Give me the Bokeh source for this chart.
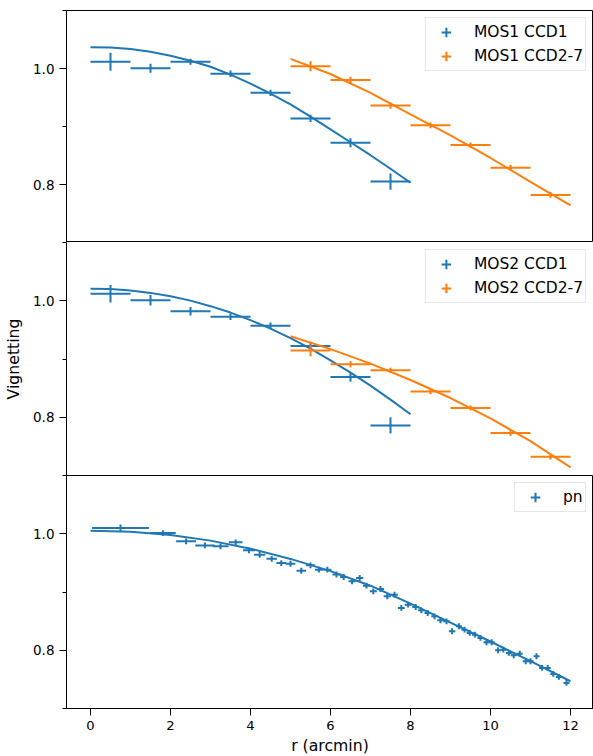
import numpy as np
from bokeh.plotting import figure
from bokeh.models import (Range1d, FixedTicker, ColumnDataSource, Legend, LegendItem,
                          PrintfTickFormatter)
from bokeh.layouts import column
from bokeh.embed import file_html
from bokeh.resources import INLINE

FONT = "DejaVu Sans"
BLUE = "#1f77b4"
ORANGE = "#ff7f0e"

# ---------------- data ----------------
mos_inner_r = [0.5, 1.5, 2.5, 3.5, 4.5, 5.5, 6.5, 7.5]
mos_inner_rerr = [0.5, 0.5, 0.5, 0.5, 0.5, 0.5, 0.5, 0.5]
mos_outer_r = [5.5, 6.5, 7.5, 8.5, 9.5, 10.5, 11.5]
mos_outer_rerr = [0.5, 0.5, 0.5, 0.5, 0.5, 0.5, 0.5]

mos1_ccd1_v = [1.0116, 1.0005, 1.0116, 0.991, 0.958, 0.914, 0.872, 0.805]
mos1_ccd1_verr = [0.0155, 0.0078, 0.005, 0.0057, 0.0055, 0.0063, 0.0078, 0.014]
mos1_ccd27_v = [1.004, 0.980, 0.936, 0.902, 0.868, 0.829, 0.782]
mos1_ccd27_verr = [0.0086, 0.0057, 0.0055, 0.0049, 0.0043, 0.0046, 0.0049]

mos2_ccd1_v = [1.012, 1.0007, 0.982, 0.9725, 0.957, 0.9224, 0.869, 0.786]
mos2_ccd1_verr = [0.015, 0.009, 0.0072, 0.0057, 0.0057, 0.007, 0.0078, 0.0138]
mos2_ccd27_v = [0.9145, 0.891, 0.8805, 0.844, 0.816, 0.773, 0.732]
mos2_ccd27_verr = [0.0098, 0.0055, 0.0046, 0.0046, 0.0043, 0.0049, 0.0046]

pn_r = [0.75, 1.81, 2.39, 2.86, 3.25, 3.63, 3.96, 4.23, 4.53, 4.77, 5.0, 5.27, 5.5,
        5.71, 5.92, 6.15, 6.33, 6.54, 6.73, 6.9, 7.07, 7.25, 7.42, 7.6, 7.77, 7.94,
        8.13, 8.27, 8.43, 8.6, 8.75, 8.9, 9.04, 9.21, 9.35, 9.48, 9.61, 9.75, 9.9,
        10.03, 10.19, 10.32, 10.46, 10.58, 10.73, 10.88, 11.0, 11.15, 11.29, 11.43,
        11.57, 11.71, 11.9]
pn_rerr = [0.71, 0.32, 0.25, 0.24, 0.2, 0.17, 0.15, 0.14, 0.13, 0.12, 0.12, 0.12, 0.11,
           0.1, 0.1, 0.1, 0.09, 0.09, 0.09, 0.09, 0.09, 0.09, 0.09, 0.085, 0.085, 0.085,
           0.085, 0.08, 0.08, 0.08, 0.08, 0.08, 0.08, 0.075, 0.075, 0.075, 0.075, 0.075,
           0.075, 0.075, 0.075, 0.075, 0.075, 0.075, 0.075, 0.075, 0.075, 0.075, 0.075,
           0.075, 0.075, 0.075, 0.075]
pn_v = [1.0098, 1.0012, 0.987, 0.980, 0.9784, 0.9852, 0.9715, 0.964, 0.957, 0.9497,
        0.9485, 0.9365, 0.9458, 0.9383, 0.9383, 0.930, 0.9257, 0.9184, 0.924, 0.9108,
        0.9012, 0.9051, 0.8926, 0.8954, 0.8726, 0.8782, 0.8743, 0.8686, 0.864, 0.8583,
        0.8515, 0.8497, 0.8326, 0.8412, 0.8353, 0.8297, 0.8268, 0.8211, 0.8137, 0.8137,
        0.800, 0.801, 0.7954, 0.7914, 0.7942, 0.7811, 0.7811, 0.7897, 0.7696, 0.7696,
        0.7594, 0.7542, 0.7439]
pn_verr = [0.006, 0.005, 0.005, 0.005, 0.005, 0.005, 0.005, 0.005, 0.005, 0.005, 0.005,
           0.005, 0.005, 0.005, 0.005, 0.005, 0.005, 0.005, 0.005, 0.005, 0.005, 0.005,
           0.005, 0.005, 0.005, 0.005, 0.005, 0.005, 0.005, 0.005, 0.005, 0.005, 0.005,
           0.005, 0.005, 0.005, 0.005, 0.005, 0.005, 0.005, 0.005, 0.005, 0.005, 0.005,
           0.005, 0.005, 0.005, 0.005, 0.005, 0.005, 0.005, 0.005, 0.005]

# fitted model curves
fit_inner_r = [0, 0.5, 1, 1.5, 2, 2.5, 3, 3.5, 4, 4.5, 5, 5.5, 6, 6.5, 7, 7.5, 8]
mos1_ccd1_fit = [1.0367, 1.0361, 1.0335, 1.0287, 1.0220, 1.0135, 1.0030, 0.9895, 0.9740,
                 0.9568, 0.9380, 0.9170, 0.8950, 0.8729, 0.8505, 0.8272, 0.8030]
mos2_ccd1_fit = [1.0207, 1.0202, 1.0177, 1.0135, 1.0077, 1.0002, 0.9907, 0.9797, 0.9667,
                 0.9522, 0.9357, 0.9177, 0.8977, 0.8767, 0.8542, 0.8302, 0.8052]
fit_outer_r = [5, 6, 7, 8, 9, 10, 11, 12]
mos1_ccd27_fit = [1.0167, 0.9905, 0.958, 0.921, 0.8847, 0.8457, 0.8047, 0.764]
mos2_ccd27_fit = [0.939, 0.917, 0.892, 0.864, 0.833, 0.798, 0.759, 0.714]
pn_fit_r = [0, 1, 2, 3, 4, 5, 6, 7, 8, 9, 10, 11, 12]
pn_fit = [1.0051, 1.0035, 0.998, 0.9882, 0.9744, 0.9568, 0.9358, 0.9108, 0.8800, 0.8475,
          0.8150, 0.7815, 0.7468]

x_ticks = [0, 2, 4, 6, 8, 10, 12]
y_ticks = [0.8, 1.0]
y_minor_ticks = [0.7, 0.9, 1.1]

# ---------------- plotting ----------------
xr = Range1d(-0.6, 12.575)


def make_fig(frame_h, top_border, bottom_axis, outline):
    p = figure(frame_width=527, frame_height=frame_h, x_range=xr,
               y_range=Range1d(0.7, 1.1), output_backend="svg", toolbar_location=None,
               x_axis_location="below" if bottom_axis else None,
               min_border_left=66, min_border_right=0, min_border_top=top_border,
               min_border_bottom=0)
    p.grid.visible = False
    p.outline_line_color = "black" if outline else None
    p.outline_line_width = 1
    p.outline_line_alpha = 1
    ya = p.yaxis[0]
    ya.ticker = FixedTicker(ticks=y_ticks, minor_ticks=y_minor_ticks)
    ya.formatter = PrintfTickFormatter(format="%.1f")
    ya.major_tick_out = 7
    ya.major_tick_in = 0
    ya.minor_tick_out = 4
    ya.minor_tick_in = 0
    ya.major_label_text_font = FONT
    ya.major_label_text_font_size = "13.5px"
    ya.major_label_text_color = "black"
    ya.major_label_standoff = 5
    ya.axis_line_color = "black"
    ya.major_tick_line_color = "black"
    ya.minor_tick_line_color = "black"
    ya.axis_label_text_font = FONT
    ya.axis_label_text_font_size = "15.7px"
    ya.axis_label_text_font_style = "normal"
    ya.axis_label_text_color = "black"
    ya.axis_label_standoff = 7
    if bottom_axis:
        xa = p.xaxis[0]
        xa.ticker = FixedTicker(ticks=x_ticks, minor_ticks=[])
        xa.major_tick_out = 7
        xa.major_tick_in = 0
        xa.minor_tick_out = 0
        xa.minor_tick_in = 0
        xa.major_label_text_font = FONT
        xa.major_label_text_font_size = "13.1px"
        xa.major_label_text_color = "black"
        xa.major_label_standoff = 5
        xa.axis_line_color = "black"
        xa.major_tick_line_color = "black"
        xa.axis_label = "r (arcmin)"
        xa.axis_label_text_font = FONT
        xa.axis_label_text_font_size = "15.7px"
        xa.axis_label_text_font_style = "normal"
        xa.axis_label_text_color = "black"
        xa.axis_label_standoff = 3
    return p


def errbars(p, r, rerr, v, verr, color):
    r = np.asarray(r, float)
    rerr = np.asarray(rerr, float)
    v = np.asarray(v, float)
    verr = np.asarray(verr, float)
    src = ColumnDataSource(dict(r=r, v=v, rl=r - rerr, rh=r + rerr, vl=v - verr, vh=v + verr))
    p.segment(x0="rl", y0="v", x1="rh", y1="v", source=src, line_color=color, line_width=2)
    p.segment(x0="r", y0="vl", x1="r", y1="vh", source=src, line_color=color, line_width=2)
    leg = p.scatter(x="r", y="v", source=src, marker="cross", size=10, line_color=color,
                    line_width=2, visible=False)
    return leg


def fit_line(p, r, v, color):
    p.line(x=r, y=v, line_color=color, line_width=2)


def add_legend(p, items):
    lg = Legend(items=[LegendItem(label=lab, renderers=[rend]) for lab, rend in items],
                location="top_right", orientation="vertical")
    lg.label_text_font = FONT
    lg.label_text_font_size = "15.5px"
    lg.label_text_color = "black"
    lg.padding = 2
    lg.spacing = 0
    lg.margin = 7
    lg.glyph_width = 36
    lg.glyph_height = 24
    lg.label_height = 24
    lg.label_standoff = 10
    lg.border_line_color = "#cccccc"
    lg.border_line_width = 1
    lg.background_fill_color = "white"
    lg.background_fill_alpha = 0.8
    p.add_layout(lg)


# top panel: MOS1
p1 = make_fig(232, 10, False, True)
l1a = errbars(p1, mos_inner_r, mos_inner_rerr, mos1_ccd1_v, mos1_ccd1_verr, BLUE)
fit_line(p1, fit_inner_r, mos1_ccd1_fit, BLUE)
l1b = errbars(p1, mos_outer_r, mos_outer_rerr, mos1_ccd27_v, mos1_ccd27_verr, ORANGE)
fit_line(p1, fit_outer_r, mos1_ccd27_fit, ORANGE)
add_legend(p1, [("MOS1 CCD1", l1a), ("MOS1 CCD2-7", l1b)])

# middle panel: MOS2
p2 = make_fig(233, 0, False, False)
p2.yaxis[0].axis_label = "Vignetting"
l2a = errbars(p2, mos_inner_r, mos_inner_rerr, mos2_ccd1_v, mos2_ccd1_verr, BLUE)
fit_line(p2, fit_inner_r, mos2_ccd1_fit, BLUE)
l2b = errbars(p2, mos_outer_r, mos_outer_rerr, mos2_ccd27_v, mos2_ccd27_verr, ORANGE)
fit_line(p2, fit_outer_r, mos2_ccd27_fit, ORANGE)
add_legend(p2, [("MOS2 CCD1", l2a), ("MOS2 CCD2-7", l2b)])

# bottom panel: pn
p3 = make_fig(233, 0, True, True)
l3 = errbars(p3, pn_r, pn_rerr, pn_v, pn_verr, BLUE)
fit_line(p3, pn_fit_r, pn_fit, BLUE)
add_legend(p3, [("pn", l3)])

layout = column(p1, p2, p3, spacing=0)

open("out.html", "w").write(file_html(layout, INLINE))
